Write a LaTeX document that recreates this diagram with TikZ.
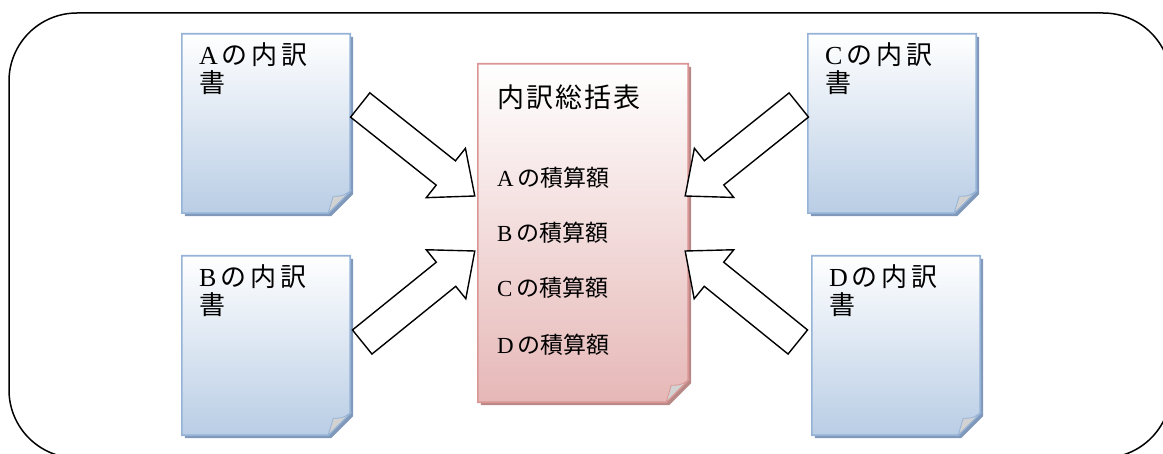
\documentclass[tikz,border=0pt]{standalone}
\usepackage{fontspec}
\setmainfont{Liberation Serif}
\newfontfamily\cjk{Noto Sans CJK JP}
\newfontfamily\cjkwide{Noto Sans CJK JP}[LetterSpace=15]
\newfontfamily\cjkmid{Noto Sans CJK JP}[LetterSpace=8]
\usetikzlibrary{calc}
\definecolor{blueborder}{RGB}{149,179,215}
\definecolor{bluebottom}{RGB}{185,205,229}
\definecolor{blueshadow}{RGB}{128,152,186}
\definecolor{pinkborder}{RGB}{217,150,148}
\definecolor{pinkbottom}{RGB}{230,184,183}
\definecolor{pinkshadow}{RGB}{184,136,135}
\definecolor{foldgray}{RGB}{210,210,210}
\newcommand\docshape[5]{%
  \fill[#5] ($(#1.north west)+(3,-3)$) -- ($(#1.north east)+(3,-3)$) -- ($(#1.south east)+(3,19)$) -- ($(#1.south east)+(-19,-3)$) -- ($(#1.south west)+(3,-3)$) -- cycle;
  \shadedraw[top color=#2, bottom color=#3, draw=#4, line width=1.6pt] (#1.north west) -- (#1.north east) -- ($(#1.south east)+(0,22)$) -- ($(#1.south east)+(-22,0)$) -- (#1.south west) -- cycle;
  \filldraw[fill=foldgray, draw=#4, line width=0.8pt] ($(#1.south east)+(-22,0)$) .. controls ($(#1.south east)+(-20,8)$) .. ($(#1.south east)+(-17,17)$) .. controls ($(#1.south east)+(-8,17)$) .. ($(#1.south east)+(0,22)$) -- cycle;
}
\newcommand\blockarrow[2]{%
  \coordinate (neck) at ($(#2)!37pt!(#1)$);
  \draw[blockarrowstyle] ($(#1)!15.5pt!90:(#2)$) -- ($(neck)!15.5pt!90:(#2)$) -- ($(neck)!31.5pt!90:(#2)$) -- (#2) -- ($(neck)!31.5pt!-90:(#2)$) -- ($(neck)!15.5pt!-90:(#2)$) -- ($(#1)!15.5pt!-90:(#2)$) -- cycle;
}
\begin{document}
\begin{tikzpicture}[x=1pt,y=1pt,
  docnode/.style={rectangle, inner sep=0pt, minimum width=168pt, minimum height=179pt},
  doclabel/.style={anchor=north west, inner sep=0pt, align=left, font=\fontsize{26}{28}\selectfont},
  itemlabel/.style={anchor=west, inner sep=0pt, font=\fontsize{23}{26}\selectfont},
  blockarrowstyle/.style={draw=black, fill=white, line width=1.4pt, line join=miter},
  outerframe/.style={draw=black, line width=1.5pt, rounded corners=68pt}]
\useasboundingbox (0,0) rectangle (1163,453);
\clip (0,0) rectangle (1163,453);
\draw[outerframe] (9,-5) rectangle (1171,440);

\node[docnode] (docA) at (266,329.5) {};
\node[docnode] (docB) at (266,107.5) {};
\node[docnode] (docC) at (892,329.5) {};
\node[docnode] (docD) at (896,107.5) {};
\node[rectangle, inner sep=0pt, minimum width=210pt, minimum height=338pt] (sum) at (583,220) {};

\docshape{docA}{white}{bluebottom}{blueborder}{blueshadow}
\docshape{docB}{white}{bluebottom}{blueborder}{blueshadow}
\docshape{docC}{white}{bluebottom}{blueborder}{blueshadow}
\docshape{docD}{white}{bluebottom}{blueborder}{blueshadow}
\docshape{sum}{white}{pinkbottom}{pinkborder}{pinkshadow}

\coordinate (ta) at ($(docA.east)+(10,18.5)$);
\coordinate (ha) at ($(sum.west)+(-3,37)$);
\coordinate (tb) at ($(docB.east)+(12,3.5)$);
\coordinate (hb) at ($(sum.west)+(-3,-18)$);
\coordinate (tc) at ($(docC.west)+(-9,18.5)$);
\coordinate (hc) at ($(sum.east)+(-3,37)$);
\coordinate (td) at ($(docD.west)+(-14,3.5)$);
\coordinate (hd) at ($(sum.east)+(-3,-18)$);
\blockarrow{ta}{ha}
\blockarrow{tb}{hb}
\blockarrow{tc}{hc}
\blockarrow{td}{hd}

\node[doclabel] (la) at ($(docA.north west)+(17,-9)$) {A\hspace{4pt}{\cjkwide の内訳}\\{\cjkwide 書}};
\node[doclabel] (lb) at ($(docB.north west)+(17,-9)$) {B\hspace{4pt}{\cjkwide の内訳}\\{\cjkwide 書}};
\node[doclabel] (lc) at ($(docC.north west)+(17,-9)$) {C\hspace{4pt}{\cjkwide の内訳}\\{\cjkwide 書}};
\node[doclabel] (ld) at ($(docD.north west)+(17,-9)$) {D\hspace{4pt}{\cjkwide の内訳}\\{\cjkwide 書}};

\node[itemlabel, font=\fontsize{27}{30}\selectfont\cjkmid] (title) at ($(sum.north west)+(19,-33)$) {内訳総括表};
\node[itemlabel] (ia) at ($(sum.north west)+(19,-114)$) {A\hspace{4pt}{\cjk の積算額}};
\node[itemlabel] (ib) at ($(sum.north west)+(19,-169)$) {B\hspace{4pt}{\cjk の積算額}};
\node[itemlabel] (ic) at ($(sum.north west)+(19,-224)$) {C\hspace{4pt}{\cjk の積算額}};
\node[itemlabel] (id) at ($(sum.north west)+(19,-281)$) {D\hspace{4pt}{\cjk の積算額}};
\end{tikzpicture}
\end{document}
